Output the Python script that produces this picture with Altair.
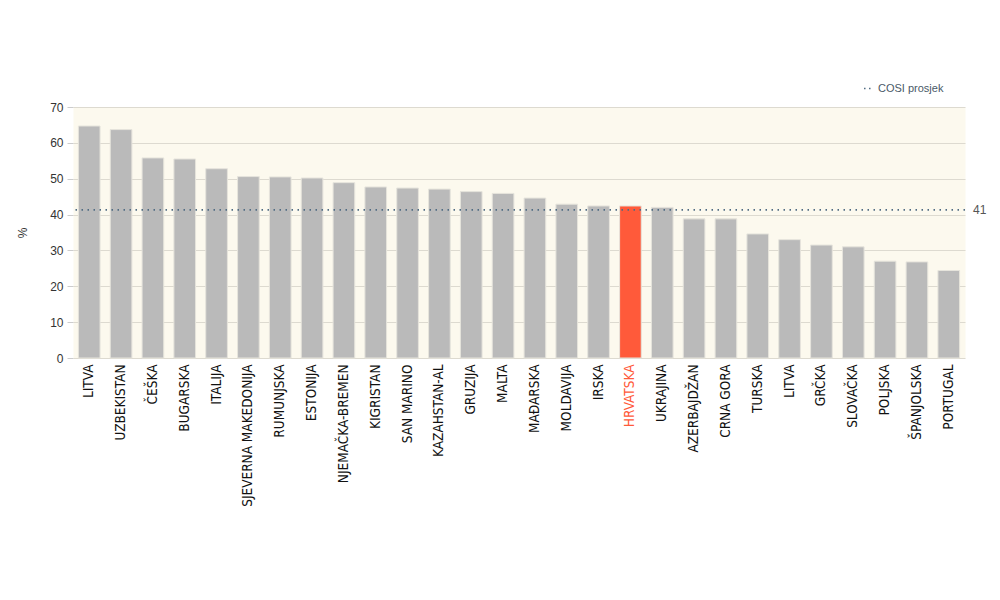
import json
import altair as alt
import pandas as pd

countries = ["LITVA", "UZBEKISTAN", "ČEŠKA", "BUGARSKA", "ITALIJA", "SJEVERNA MAKEDONIJA",
             "RUMUNJSKA", "ESTONIJA", "NJEMAČKA-BREMEN", "KIGRISTAN", "SAN MARINO",
             "KAZAHSTAN-AL", "GRUZIJA", "MALTA", "MAĐARSKA", "MOLDAVIJA", "IRSKA",
             "HRVATSKA", "UKRAJINA", "AZERBAJDŽAN", "CRNA GORA", "TURSKA", "LITVA",
             "GRČKA", "SLOVAČKA", "POLJSKA", "ŠPANJOLSKA", "PORTUGAL"]
values = [64.7, 63.7, 55.8, 55.5, 52.8, 50.6, 50.5, 50.2, 48.9, 47.7, 47.4, 47.1, 46.4,
          45.9, 44.6, 42.9, 42.4, 42.4, 42.0, 38.8, 38.8, 34.6, 33.0, 31.5, 31.0, 27.0,
          26.8, 24.4]
highlight = "HRVATSKA"
cosi_avg = 41.3
cosi_label = "41"
legend_label = "COSI prosjek"
y_ticks = [0, 10, 20, 30, 40, 50, 60, 70]

df = pd.DataFrame({
    "idx": list(range(len(countries))),
    "country": countries,
    "value": values,
    "hl": [c == highlight for c in countries],
})

names_js = json.dumps(countries, ensure_ascii=False)
label_expr = names_js + "[datum.value]"

W, H = 892, 251
FONT = "DejaVu Sans Condensed"

y_enc = alt.Y("value:Q", title="%",
              scale=alt.Scale(domain=[0, 70], nice=False),
              axis=alt.Axis(values=y_ticks, tickCount=8, grid=True, gridColor="#dddad0",
                            domain=False, tickColor="#cccccc", tickSize=6, labelPadding=4,
                            labelFontSize=12, labelColor="#333333", labelFont="Liberation Sans",
                            titleFontSize=12, titleFontWeight="normal", titleColor="#333333",
                            titleFont="Liberation Sans", titlePadding=20))

bars = alt.Chart(df).mark_bar(stroke="#e6e4dc", strokeWidth=1).encode(
    x=alt.X("idx:O", title=None,
            scale=alt.Scale(paddingInner=0.32, paddingOuter=0.17),
            axis=alt.Axis(labelExpr=label_expr, labelAngle=-90, labelFontSize=13.5,
                          labelFont=FONT, labelPadding=6, ticks=False, domain=False,
                          labelColor=alt.expr(f"{names_js}[datum.value] == '{highlight}' ? '#ff5a3a' : '#111111'"))),
    y=y_enc,
    color=alt.condition(alt.datum.hl, alt.value("#ff5a3a"), alt.value("#bababa")),
)

avg_df = pd.DataFrame({"value": [cosi_avg], "label": [cosi_label], "series": [legend_label]})

rule = alt.Chart(avg_df).mark_rule(strokeDash=[1.5, 4.5], strokeWidth=1.6).encode(
    y=y_enc,
    color=alt.Color("series:N", scale=alt.Scale(range=["#4f6b82"]),
                    legend=alt.Legend(title=None, orient="none", legendX=790, legendY=-24,
                                      symbolType="stroke", symbolDash=[1.5, 3.5],
                                      symbolStrokeWidth=1.6, symbolSize=80,
                                      labelFontSize=11, labelColor="#4a5a68",
                                      labelFont="Liberation Sans", padding=0)),
)

avg_text = alt.Chart(avg_df).mark_text(align="left", baseline="middle", dx=8, fontSize=12,
                                       color="#555555", font="Liberation Sans").encode(
    y=y_enc,
    x=alt.value(W),
    text="label:N",
)

chart = alt.layer(bars, rule, avg_text).properties(
    width=W, height=H,
    background="white",
    autosize=alt.AutoSizeParams(type="none"),
    padding={"left": 65, "top": 99, "right": 27, "bottom": 226},
).configure_view(fill="#fcf9ee", stroke="transparent")

chart.save("out.html", embed_options={"renderer": "svg", "actions": False})
